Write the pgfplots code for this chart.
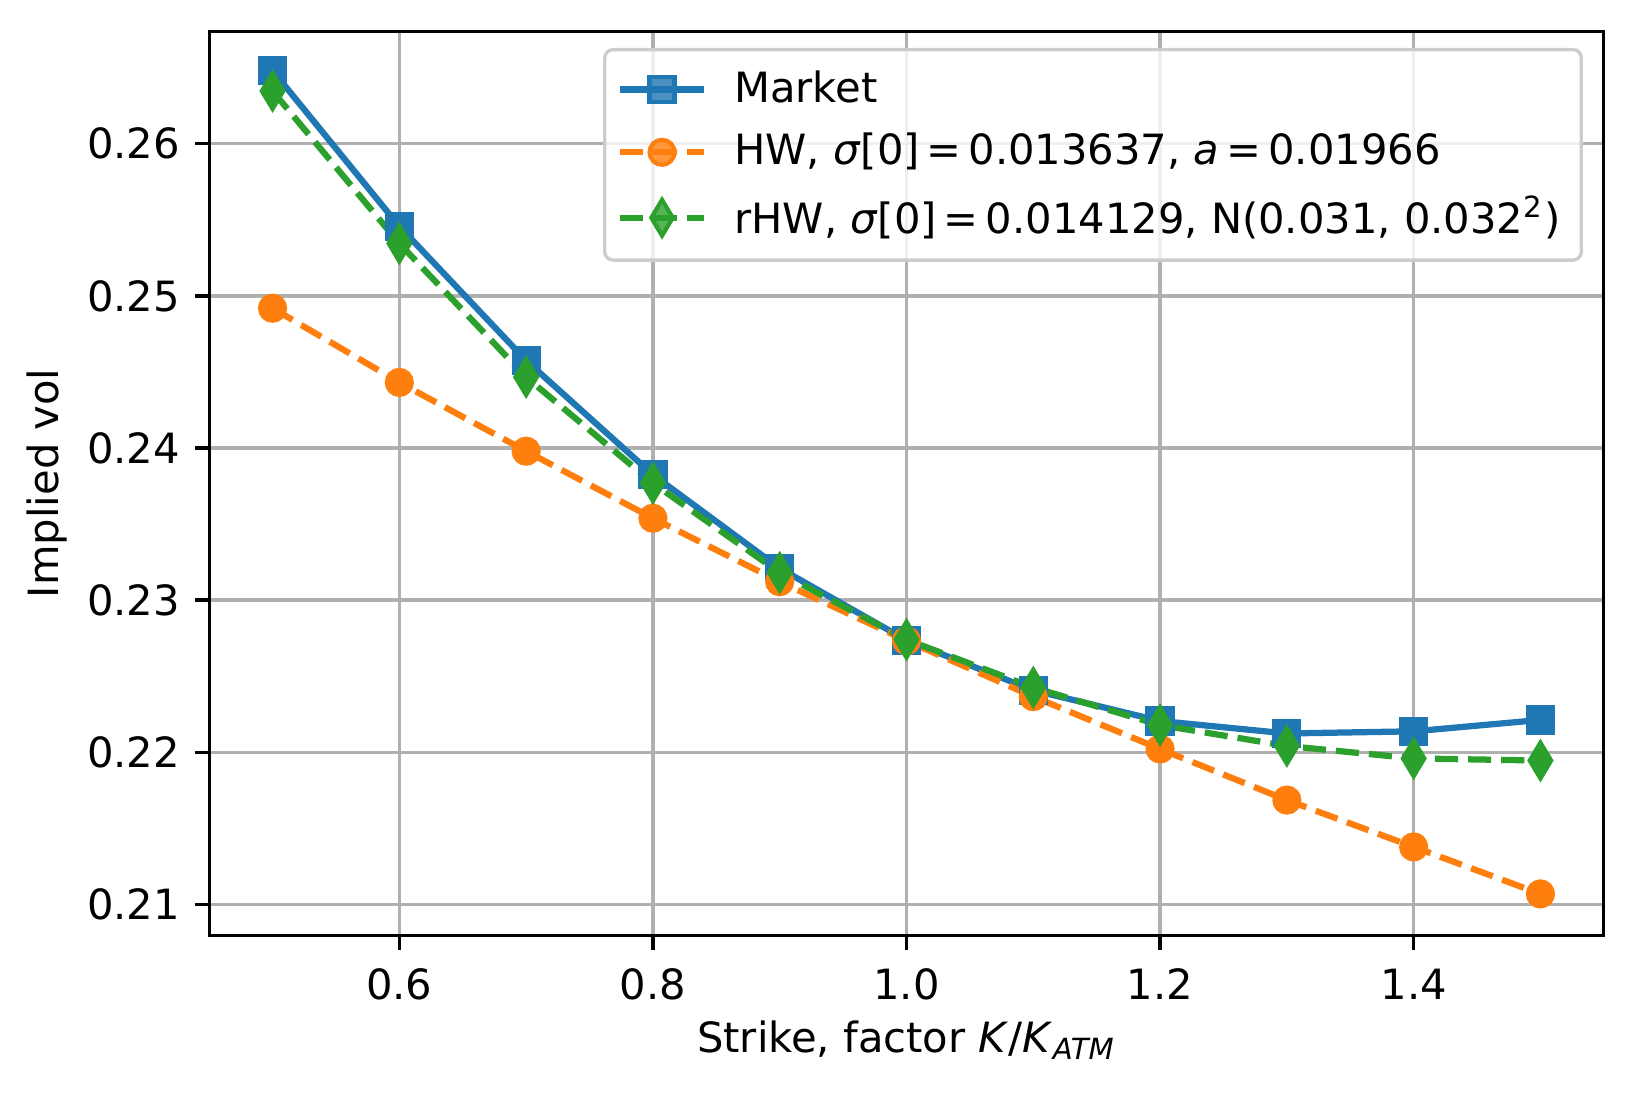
\documentclass[border=0pt]{standalone}
\usepackage{fontspec}
\setmainfont{DejaVu Sans}
\usepackage{pgfplots}
\pgfplotsset{compat=1.18}
\definecolor{tabblue}{HTML}{1F77B4}
\definecolor{taborange}{HTML}{FF7F0E}
\definecolor{tabgreen}{HTML}{2CA02C}
\definecolor{gridgray}{HTML}{B0B0B0}
\definecolor{legedge}{HTML}{CCCCCC}
\begin{document}
\fontsize{10pt}{12pt}\selectfont
\begin{tikzpicture}
\useasboundingbox (0,0) rectangle (391.9pt,262.3pt);
\begin{axis}[
  at={(50.2pt,37.8pt)}, anchor=south west,
  scale only axis,
  width=334.7pt, height=217pt,
  xmin=0.45, xmax=1.55, ymin=0.20795, ymax=0.2674,
  xtick={0.6,0.8,1.0,1.2,1.4},
  xticklabels={0.6,0.8,1.0,1.2,1.4},
  ytick={0.21,0.22,0.23,0.24,0.25,0.26},
  yticklabels={0.21,0.22,0.23,0.24,0.25,0.26},
  tick pos=left,
  tick align=outside,
  major tick length=3.5pt,
  every tick/.style={black, line width=0.8pt},
  axis line style={line width=0.8pt},
  grid=major,
  major grid style={gridgray, line width=0.8pt},
  ticklabel style={font=\fontsize{10pt}{12pt}\selectfont},
  xticklabel style={yshift=-1pt},
  label style={font=\fontsize{10pt}{12pt}\selectfont},
  xlabel={Strike, factor \textit{K}/\textit{K}\textsubscript{\textit{ATM}}},
  ylabel={Implied vol},
  xlabel style={yshift=2pt},
  ylabel style={yshift=-2pt},
  legend cell align=left,
  legend style={at={(1,1)}, anchor=north east, xshift=-5pt, yshift=-4pt,
    draw=legedge, line width=0.8pt, rounded corners=2pt, fill=white, fill opacity=0.8, text opacity=1,
    font=\fontsize{10pt}{12pt}\selectfont, inner xsep=3pt, inner ysep=3pt,
    row sep=2pt, /tikz/every odd column/.append style={column sep=4.6pt}},
  legend image code/.code={%
    \draw[mark repeat=2,mark phase=2] plot coordinates {(0pt,0pt) (10pt,0pt) (20pt,0pt)};},
]
\addplot[tabblue, line width=1.5pt, mark=square*, mark size=3pt, mark options={solid, line width=1pt}]
coordinates {
(0.5,0.26481) (0.6,0.25457) (0.7,0.24575) (0.8,0.23824) (0.9,0.23209) (1.0,0.22736)
(1.1,0.22407) (1.2,0.22205) (1.3,0.22123) (1.4,0.22137) (1.5,0.22212)
};
\addlegendentry{Market}
\addplot[taborange, line width=1.5pt, dash pattern=on 5.55pt off 2.4pt, mark=*, mark size=3pt, mark options={solid, line width=1pt}]
coordinates {
(0.5,0.24919) (0.6,0.24431) (0.7,0.23979) (0.8,0.23538) (0.9,0.23121) (1.0,0.22733)
(1.1,0.22365) (1.2,0.22021) (1.3,0.21685) (1.4,0.21377) (1.5,0.21068)
};
\addlegendentry{HW, \textit{σ}[0]\,=\,0.013637, \textit{a}\,=\,0.01966}
\addplot[tabgreen, line width=1.5pt, dash pattern=on 5.55pt off 2.4pt, mark=diamond*, mark size=4.3pt, mark options={solid, xscale=0.8, line width=1pt}]
coordinates {
(0.5,0.26347) (0.6,0.25345) (0.7,0.24466) (0.8,0.23769) (0.9,0.2318) (1.0,0.2274)
(1.1,0.22425) (1.2,0.22178) (1.3,0.22041) (1.4,0.21959) (1.5,0.21945)
};
\addlegendentry{rHW, \textit{σ}[0]\,=\,0.014129, N(0.031, 0.032\textsuperscript{2})}
\end{axis}
\end{tikzpicture}
\end{document}
